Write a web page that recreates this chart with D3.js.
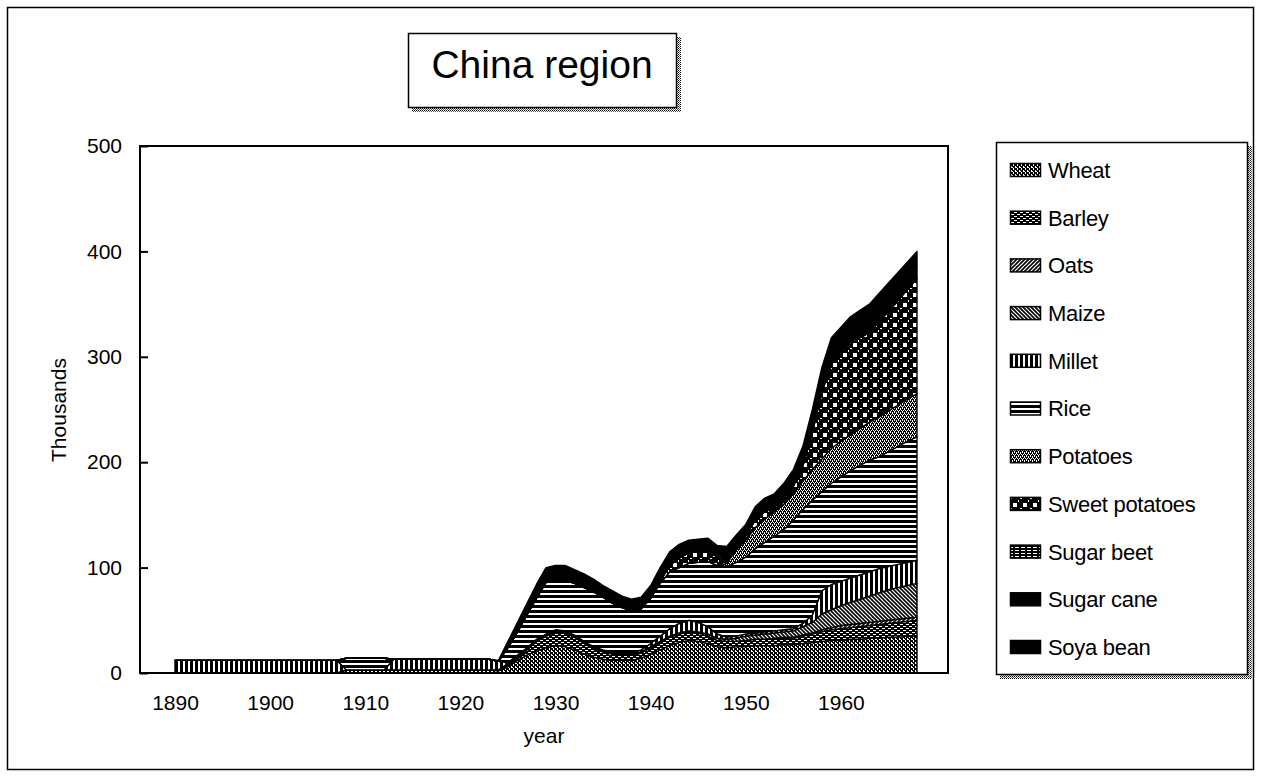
<!DOCTYPE html>
<html>
<head>
<meta charset="utf-8">
<script src="https://cdn.jsdelivr.net/npm/d3@7"></script>
<style>
  html, body { margin: 0; padding: 0; background: #fff; }
  svg { display: block; }
  text { font-family: "Liberation Sans", Arial, sans-serif; fill: #000; }
</style>
</head>
<body>
<svg id="chart" width="1261" height="777"></svg>
<script>
// ---- data (thousands), one value per year 1890-1968 ----
const years = [
  1890,1891,1892,1893,1894,1895,1896,1897,1898,1899,
  1900,1901,1902,1903,1904,1905,1906,1907,1908,1909,
  1910,1911,1912,1913,1914,1915,1916,1917,1918,1919,
  1920,1921,1922,1923,1924,1925,1926,1927,1928,1929,
  1930,1931,1932,1933,1934,1935,1936,1937,1938,1939,
  1940,1941,1942,1943,1944,1945,1946,1947,1948,1949,
  1950,1951,1952,1953,1954,1955,1956,1957,1958,1959,
  1960,1961,1962,1963,1964,1965,1966,1967,1968
];

const wheat = [
  0,0,0,0,0,0,0,0,0,0,
  0,0,0,0,0,0,0,0,3,3,
  3,3,3,3,3,3,3,3,3,3,
  3,3,3,3,2,6,12,17,21,24,
  26,25,22,18,15,13,12,12,12,14,
  18,22,26,29,31,30,28,25,24,25,
  25,26,26,26,27,27,28,29,30,31,
  31,32,32,33,33,34,34,35,35
];
const barley = [
  0,0,0,0,0,0,0,0,0,0,
  0,0,0,0,0,0,0,0,0,0,
  0,0,0,0,0,0,0,0,0,0,
  0,0,0,0,1,2,3,5,9,11,
  13,13,12,10,8,7,6,5,5,5,
  6,7,8,8,8,8,7,6,6,5,
  6,6,6,6,6,6,7,8,9,10,
  11,11,12,12,13,13,14,14,15
];
const oats = [
  0,0,0,0,0,0,0,0,0,0,
  0,0,0,0,0,0,0,0,0,0,
  0,0,0,0,0,0,0,0,0,0,
  0,0,0,0,0,0,0,0,0,0,
  0,0,0,0,0,0,0,0,0,0,
  0,0,0,0,0,0,0,0,0,0,
  0,0,0,1,1,1,1,1,2,2,
  3,3,3,3,3,3,3,3,3
];
const maize = [
  0,0,0,0,0,0,0,0,0,0,
  0,0,0,0,0,0,0,0,0,0,
  0,0,0,0,0,0,0,0,0,0,
  0,0,0,0,0,1,1,1,1,1,
  1,1,1,1,1,1,1,1,1,1,
  1,1,1,1,1,1,2,2,2,3,
  4,4,5,5,5,6,8,10,15,17,
  19,21,23,25,27,29,30,31,32
];
const millet = [
  12,12,12,12,12,12,12,12,12,12,
  12,12,12,12,12,12,12,12,0,0,
  0,0,0,10,10,10,10,10,10,10,
  10,10,10,10,8,1,1,1,1,1,
  1,1,1,1,1,1,1,1,1,2,
  3,5,7,9,10,9,7,4,2,2,
  2,2,2,2,2,2,3,7,22,24,
  23,23,23,23,23,22,22,22,22
];
const rice = [
  0,0,0,0,0,0,0,0,0,0,
  0,0,0,0,0,0,0,0,11,11,
  11,11,11,0,0,0,0,0,0,0,
  0,0,0,0,0,14,22,31,39,49,
  47,48,49,51,52,50,46,43,40,39,
  43,50,54,53,54,57,62,65,67,70,
  73,80,85,90,95,103,108,109,94,96,
  99,102,104,106,106,109,112,115,117
];
const potatoes = [
  0,0,0,0,0,0,0,0,0,0,
  0,0,0,0,0,0,0,0,0,0,
  0,0,0,0,0,0,0,0,0,0,
  0,0,0,0,0,0,0,0,0,0,
  0,0,0,0,0,0,0,0,0,0,
  0,0,0,0,0,0,0,0,3,12,
  16,20,22,23,24,25,27,29,31,33,
  34,34,35,36,38,39,39,40,41
];
const sweetPotatoes = [
  0,0,0,0,0,0,0,0,0,0,
  0,0,0,0,0,0,0,0,0,0,
  0,0,0,0,0,0,0,0,0,0,
  0,0,0,0,0,0,0,0,0,0,
  0,0,0,0,0,0,0,0,0,0,
  0,2,6,9,10,11,10,8,4,3,
  4,7,7,4,5,7,14,35,63,80,
  83,86,86,85,90,94,99,104,109
];
const sugarBeet = [
  0,0,0,0,0,0,0,0,0,0,
  0,0,0,0,0,0,0,0,0,0,
  0,0,0,0,0,0,0,0,0,0,
  0,0,0,0,0,0,0,0,0,0,
  0,0,0,0,0,0,0,0,0,0,
  0,0,0,0,0,0,0,0,0,0,
  0,0,0,1,1,1,1,1,2,2,
  2,2,2,2,2,2,2,2,2
];
const sugarCane = [
  0,0,0,0,0,0,0,0,0,0,
  0,0,0,0,0,0,0,0,0,0,
  0,0,0,0,0,0,0,0,0,0,
  0,0,0,0,0,2,4,5,6,6,
  7,7,7,7,6,6,6,5,5,5,
  6,6,6,6,5,5,6,5,6,5,
  5,6,6,5,6,7,8,9,9,10,
  10,11,11,12,12,12,12,11,12
];
const soyaBean = [
  0,0,0,0,0,0,0,0,0,0,
  0,0,0,0,0,0,0,0,0,0,
  0,0,0,0,0,0,0,0,0,0,
  0,0,0,0,1,4,5,6,7,8,
  7,7,6,6,6,5,6,6,6,6,
  6,7,7,7,7,6,6,6,6,6,
  6,7,7,7,8,8,10,12,13,13,
  13,13,13,13,13,13,13,13,12
];

const seriesNames = ["Wheat", "Barley", "Oats", "Maize", "Millet", "Rice",
  "Potatoes", "Sweet potatoes", "Sugar beet", "Sugar cane", "Soya bean"];
const seriesValues = [wheat, barley, oats, maize, millet, rice,
  potatoes, sweetPotatoes, sugarBeet, sugarCane, soyaBean];
const yTickValues = [0, 100, 200, 300, 400, 500];
const xTickYears = [1890, 1900, 1910, 1920, 1930, 1940, 1950, 1960];
const titleText = "China region";
const xTitle = "year";
const yTitle = "Thousands";

// ---- layout ----
const plot = { left: 140, right: 948, top: 146, bottom: 673 };
const FONT = '"Liberation Sans", Arial, sans-serif';
const svg = d3.select("#chart");
const defs = svg.append("defs");

// ---- monochrome fill patterns ----
function pattern(id, w, h, bg, draw) {
  const p = defs.append("pattern").attr("id", id)
    .attr("patternUnits", "userSpaceOnUse").attr("width", w).attr("height", h);
  p.append("rect").attr("width", w).attr("height", h).attr("fill", bg);
  draw(p);
}
function px(p, xx, yy, w, h, c) {
  p.append("rect").attr("x", xx).attr("y", yy).attr("width", w).attr("height", h).attr("fill", c);
}
pattern("p-wheat", 4, 4, "#000", p => {
  px(p, 1, 0, 1, 2, "#fff");
  px(p, 3, 2, 1, 2, "#fff");
  px(p, 0, 3, 1, 1, "#fff");
});
pattern("p-barley", 6, 4, "#000", p => {
  px(p, 0, 0, 3, 1, "#fff");
  px(p, 3, 2, 3, 1, "#fff");
});
pattern("p-oats", 4, 4, "#fff", p => {
  p.append("path").attr("d", "M0,4L4,0M-1,1L1,-1M3,5L5,3")
    .attr("stroke", "#000").attr("stroke-width", 1.6);
});
pattern("p-maize", 4, 4, "#fff", p => {
  p.append("path").attr("d", "M0,0L4,4M-1,3L1,5M3,-1L5,1")
    .attr("stroke", "#000").attr("stroke-width", 1.6);
});
pattern("p-millet", 5, 5, "#fff", p => {
  px(p, 0, 0, 3, 5, "#000");
});
pattern("p-rice", 5, 5, "#fff", p => {
  px(p, 0, 0, 5, 3, "#000");
});
pattern("p-potatoes", 4, 4, "#000", p => {
  px(p, 0, 0, 1, 1, "#fff");
  px(p, 2, 0, 1, 1, "#fff");
  px(p, 1, 2, 1, 1, "#fff");
  px(p, 3, 2, 1, 1, "#fff");
  px(p, 0, 1, 1, 1, "#fff");
  px(p, 2, 3, 1, 1, "#fff");
});
pattern("p-sweet", 10, 10, "#000", p => {
  px(p, 3, 3, 4, 4, "#fff");
  px(p, 0, 8, 2, 1, "#fff");
  px(p, 8, 0, 1, 2, "#fff");
});
pattern("p-beet", 6, 3, "#000", p => {
  px(p, 1, 1, 4, 1, "#fff");
});
pattern("p-dither", 2, 2, "#fff", p => {
  px(p, 0, 0, 1, 1, "#000");
  px(p, 1, 1, 1, 1, "#555");
});
const fills = ["url(#p-wheat)", "url(#p-barley)", "url(#p-oats)", "url(#p-maize)",
  "url(#p-millet)", "url(#p-rice)", "url(#p-potatoes)", "url(#p-sweet)",
  "url(#p-beet)", "#000", "#000"];

// ---- outer frame ----
svg.append("rect").attr("x", 7.5).attr("y", 7.5).attr("width", 1246).attr("height", 762)
  .attr("fill", "none").attr("stroke", "#000").attr("stroke-width", 1.5);

// ---- boxed title with shadow ----
function shadowBox(x0, y0, w, h) {
  svg.append("rect").attr("x", x0 + w).attr("y", y0 + 4).attr("width", 4).attr("height", h)
    .attr("fill", "url(#p-dither)");
  svg.append("rect").attr("x", x0 + 4).attr("y", y0 + h).attr("width", w).attr("height", 4)
    .attr("fill", "url(#p-dither)");
  svg.append("rect").attr("x", x0 + 0.5).attr("y", y0 + 0.5).attr("width", w - 1).attr("height", h - 1)
    .attr("fill", "#fff").attr("stroke", "#000").attr("stroke-width", 1.5);
}
shadowBox(408, 33, 269, 75);
svg.append("text").attr("x", 542).attr("y", 78).attr("text-anchor", "middle")
  .attr("font-size", 39).text(titleText);

// ---- scales ----
const x = d3.scaleLinear().domain([1890, 1968]).range([175, 917]);
const y = d3.scaleLinear().domain([0, 500]).range([plot.bottom, plot.top]);

// ---- stacked areas ----
const table = years.map((yr, i) => {
  const row = { year: yr };
  seriesNames.forEach((name, k) => { row[name] = seriesValues[k][i]; });
  return row;
});
const stacked = d3.stack().keys(seriesNames)(table);
const area = d3.area()
  .x(d => x(d.data.year))
  .y0(d => y(d[0]))
  .y1(d => y(d[1]));

svg.append("g").selectAll("path").data(stacked).join("path")
  .attr("d", area)
  .attr("fill", (d, i) => fills[i])
  .attr("stroke", "#000")
  .attr("stroke-width", 1.4)
  .attr("stroke-linejoin", "round");

// ---- plot border and axes ----
svg.append("rect").attr("x", plot.left).attr("y", plot.top)
  .attr("width", plot.right - plot.left).attr("height", plot.bottom - plot.top)
  .attr("fill", "none").attr("stroke", "#000").attr("stroke-width", 2);

const yAxis = svg.append("g").attr("transform", `translate(${plot.left},0)`)
  .call(d3.axisLeft(y).tickValues(yTickValues).tickSize(-8).tickPadding(18));
yAxis.select(".domain").remove();
yAxis.selectAll("line").attr("stroke", "#000").attr("stroke-width", 2);
yAxis.selectAll("text").attr("font-size", 21).style("font-family", FONT);

const xAxis = svg.append("g").attr("transform", `translate(0,${plot.bottom})`)
  .call(d3.axisBottom(x).tickValues(xTickYears).tickSize(0).tickPadding(22).tickFormat(d3.format("d")));
xAxis.select(".domain").remove();
xAxis.selectAll("text").attr("font-size", 21).style("font-family", FONT);

svg.append("text").attr("x", (plot.left + plot.right) / 2).attr("y", 743)
  .attr("text-anchor", "middle").attr("font-size", 21).text(xTitle);
svg.append("text").attr("transform", "translate(66,410) rotate(-90)")
  .attr("text-anchor", "middle").attr("font-size", 21).text(yTitle);

// ---- legend ----
shadowBox(996, 142, 252, 533);
const legend = svg.append("g");
seriesNames.forEach((name, i) => {
  const cy = 170 + i * 47.7;
  legend.append("rect").attr("x", 1010.5).attr("y", cy - 6.5).attr("width", 30).attr("height", 13)
    .attr("fill", fills[i]).attr("stroke", "#000").attr("stroke-width", 1.5);
  legend.append("text").attr("x", 1048).attr("y", cy).attr("dy", "0.36em")
    .attr("font-size", 22).attr("letter-spacing", -0.3).text(name);
});
</script>
</body>
</html>
